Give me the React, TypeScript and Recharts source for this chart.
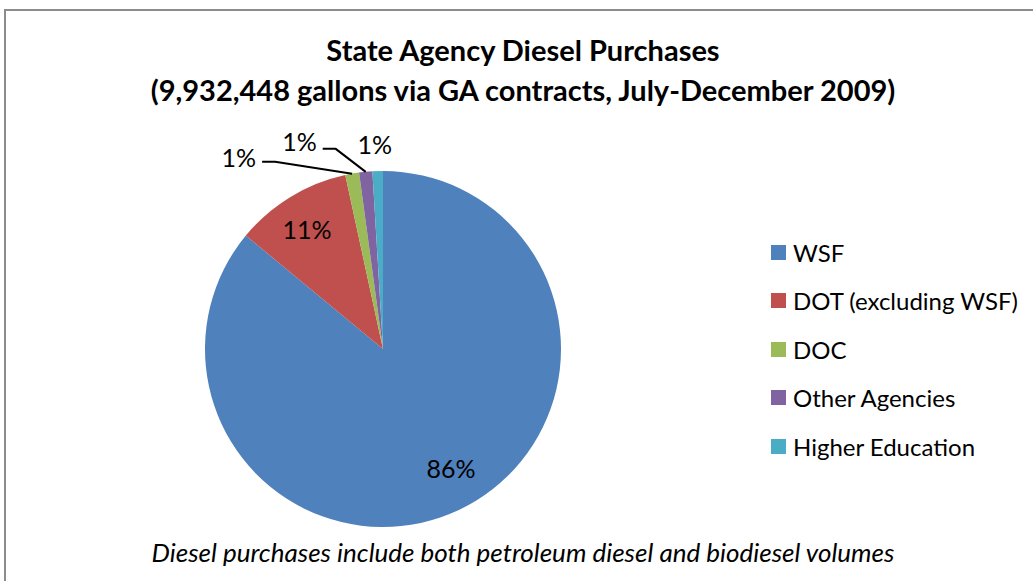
import React from "react";
import { PieChart, Pie, Cell, Legend } from "recharts";

const categories = ["WSF", "DOT (excluding WSF)", "DOC", "Other Agencies", "Higher Education"];
const shares = [86.0, 10.6, 1.25, 1.2, 0.95];
const percentLabels = ["86%", "11%", "1%", "1%", "1%"];
const colors = ["#4F81BD", "#C0504D", "#9BBB59", "#8064A2", "#4BACC6"];
const titleLines = [
  "State Agency Diesel Purchases",
  "(9,932,448 gallons via GA contracts, July-December 2009)",
];
const footnote = "Diesel purchases include both petroleum diesel and biodiesel volumes";

const data = categories.map((name, i) => ({ name, value: shares[i], label: percentLabels[i] }));

const FONT = "Lato, 'Open Sans', sans-serif";
const RAD = Math.PI / 180;
const LABEL_SIZE = 25;

// label layout: inside radius factor (+ nudge), or outside offsets (elbow + text)
const insideLayout: Record<number, { f: number; nudge: [number, number] }> = {
  0: { f: 0.74, nudge: [12, 0] },
  1: { f: 0.79, nudge: [-3, 0] },
};
const outsideLayout: Record<number, { elbow: [number, number] | null; text: [number, number] }> = {
  2: { elbow: [-77, -12], text: [-20, -5] },
  3: { elbow: [-30, -23], text: [-12, -8] },
  4: { elbow: null, text: [-3, -27] },
};

const renderLabel = (props: any) => {
  const { cx, cy, midAngle, outerRadius, index } = props;
  const cos = Math.cos(-midAngle * RAD);
  const sin = Math.sin(-midAngle * RAD);
  const inside = insideLayout[index];
  if (inside) {
    const r = outerRadius * inside.f;
    return (
      <text x={cx + r * cos + inside.nudge[0]} y={cy + r * sin + inside.nudge[1]} textAnchor="middle"
        dominantBaseline="central" fontFamily={FONT} fontSize={LABEL_SIZE} fill="#000">
        {data[index].label}
      </text>
    );
  }
  const lay = outsideLayout[index];
  const ox = cx + outerRadius * cos;
  const oy = cy + outerRadius * sin;
  if (!lay.elbow) {
    return (
      <text x={ox + lay.text[0]} y={oy + lay.text[1]} textAnchor="middle" dominantBaseline="central"
        fontFamily={FONT} fontSize={LABEL_SIZE} fill="#000">
        {data[index].label}
      </text>
    );
  }
  const ex = ox + lay.elbow[0];
  const ey = oy + lay.elbow[1];
  const lx = ex - 13;
  return (
    <g>
      <polyline points={`${ox},${oy} ${ex},${ey} ${lx},${ey}`} fill="none" stroke="#000" strokeWidth={2} />
      <text x={lx - 6} y={ey + lay.text[1]} textAnchor="end" dominantBaseline="central"
        fontFamily={FONT} fontSize={LABEL_SIZE} fill="#000">
        {data[index].label}
      </text>
    </g>
  );
};

const renderLegend = () => (
  <div style={{ fontFamily: FONT, fontSize: 24, color: "#000" }}>
    {data.map((d, i) => (
      <div key={d.name} style={{ display: "flex", alignItems: "center", height: 48.5 }}>
        <div style={{ width: 15, height: 15, background: colors[i], marginRight: 7 }} />
        <span>{d.name}</span>
      </div>
    ))}
  </div>
);

export default function App() {
  return (
    <div style={{ position: "absolute", left: 0, top: 0, width: 1033, height: 581, background: "#fff", overflow: "hidden" }}>
      <div style={{ position: "absolute", left: 4, top: 9, width: 1040, height: 600, border: "2px solid #8c8c8c", boxSizing: "border-box" }} />
      <div style={{ position: "absolute", left: 0, top: 30, width: 1046, textAlign: "center", fontFamily: FONT, fontWeight: 700, fontSize: 29, lineHeight: "40px", color: "#000" }}>
        {titleLines.map((t) => (<div key={t}>{t}</div>))}
      </div>
      <div style={{ position: "absolute", left: 0, top: 537, width: 1046, textAlign: "center", fontFamily: FONT, fontStyle: "italic", fontSize: 26, lineHeight: "30px", color: "#000" }}>
        {footnote}
      </div>
      <div style={{ position: "absolute", left: 0, top: 0 }}>
        <PieChart width={1033} height={581} margin={{ top: 0, right: 0, bottom: 0, left: 0 }}>
          <Pie data={data} dataKey="value" nameKey="name" cx={383} cy={349} outerRadius={178}
            startAngle={90} endAngle={-270} isAnimationActive={false} label={renderLabel} labelLine={false}
            stroke="none">
            {data.map((d, i) => (<Cell key={d.name} fill={colors[i]} />))}
          </Pie>
          <Legend content={renderLegend} layout="vertical" verticalAlign="top" align="right"
            wrapperStyle={{ position: "absolute", left: 771, top: 228, width: 260 }} />
        </PieChart>
      </div>
    </div>
  );
}
